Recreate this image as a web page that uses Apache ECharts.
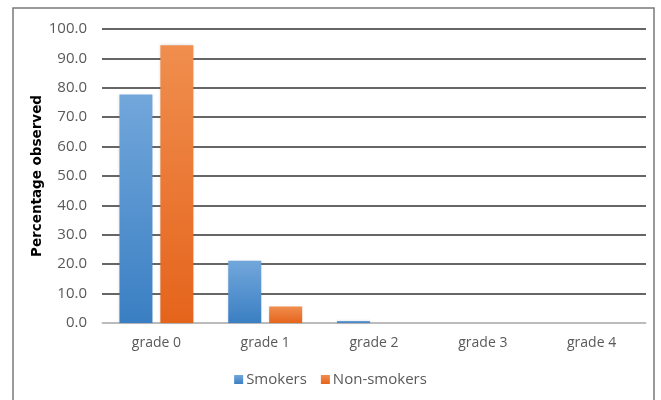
<!DOCTYPE html>
<html>
<head>
<meta charset="utf-8">
<script src="https://cdn.jsdelivr.net/npm/echarts@6/dist/echarts.min.js"></script>
<style>
html,body{margin:0;padding:0;background:#fff;}
#c{width:661px;height:400px;}
</style>
</head>
<body>
<div id="c"></div>
<script>
const categories = ['grade 0', 'grade 1', 'grade 2', 'grade 3', 'grade 4'];
const smokers = [77.7, 21.2, 0.7, 0, 0];
const nonSmokers = [94.5, 5.6, 0, 0, 0];
const seriesNames = ['Smokers', 'Non-smokers'];

const FONT = '"Open Sans", sans-serif';
const chart = echarts.init(document.getElementById('c'));

function grad(top, bottom) {
  return new echarts.graphic.LinearGradient(0, 0, 0, 1, [
    { offset: 0, color: top }, { offset: 1, color: bottom }
  ]);
}

chart.setOption({
  animation: false,
  backgroundColor: '#fff',
  graphic: [{
    type: 'rect',
    shape: { x: 13, y: 8, width: 641, height: 400 },
    style: { fill: 'none', stroke: '#7a7a7a', lineWidth: 1.5 },
    silent: true
  }],
  grid: { left: 102, right: 15, top: 29, bottom: 77, containLabel: false },
  legend: {
    data: seriesNames,
    bottom: 8,
    left: 'center',
    itemWidth: 9,
    itemHeight: 9,
    itemGap: 14,
    icon: 'rect',
    textStyle: { fontFamily: FONT, fontSize: 15, color: '#595959', padding: [0, 0, 0, -2] }
  },
  xAxis: {
    type: 'category',
    data: categories,
    axisLine: { show: true, lineStyle: { color: '#d9d9d9', width: 1.5 } },
    axisTick: { show: false },
    axisLabel: { fontFamily: FONT, fontSize: 14, color: '#595959', margin: 13 }
  },
  yAxis: {
    type: 'value',
    min: 0, max: 100, interval: 10,
    name: 'Percentage observed',
    nameLocation: 'middle',
    nameGap: 58,
    nameMoveOverlap: false,
    nameTextStyle: { fontFamily: '"DejaVu Sans", "Open Sans", sans-serif', fontSize: 13.5, fontWeight: 'bold', color: '#000' },
    axisLine: { show: false },
    axisTick: { show: false },
    axisLabel: {
      fontFamily: FONT, fontSize: 15, color: '#595959', margin: 15,
      formatter: v => v.toFixed(1)
    },
    splitLine: { lineStyle: { color: '#333333', width: 1.5 } }
  },
  series: [
    {
      name: seriesNames[0], type: 'bar', data: smokers,
      barWidth: 33, barGap: '24%',
      itemStyle: { color: grad('#72a7db', '#3a7fc3'), shadowColor: 'rgba(0,0,0,0.15)', shadowBlur: 3 }
    },
    {
      name: seriesNames[1], type: 'bar', data: nonSmokers,
      barWidth: 33,
      itemStyle: { color: grad('#f08e4e', '#e5641c'), shadowColor: 'rgba(0,0,0,0.15)', shadowBlur: 3 }
    }
  ]
});
</script>
</body>
</html>
